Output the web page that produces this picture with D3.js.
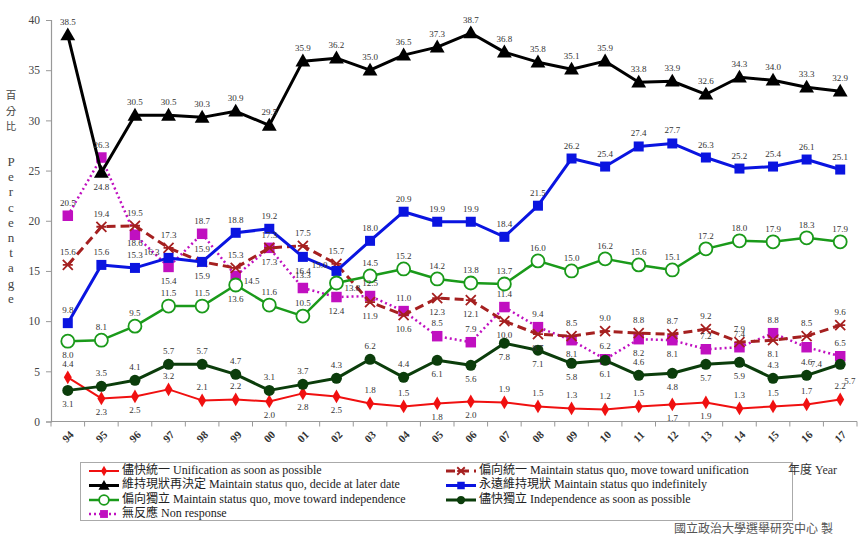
<!DOCTYPE html>
<html><head><meta charset="utf-8">
<script src="https://cdn.jsdelivr.net/npm/d3@7"></script>
<style>
body{margin:0;background:#fff;}
svg{display:block;}
text{font-family:"Liberation Serif","Times New Roman","Noto Sans CJK TC",serif;}
</style></head>
<body><svg id="chart" width="866" height="540"></svg>
<script>
// ---- data ----
const years = ["94","95","96","97","98","99","00","01","02","03","04","05","06","07","08","09","10","11","12","13","14","15","16","17"];
const yTicks = [0,5,10,15,20,25,30,35,40];
const unifyASAP      = [4.4,2.3,2.5,3.2,2.1,2.2,2.0,2.8,2.5,1.8,1.5,1.8,2.0,1.9,1.5,1.3,1.2,1.5,1.7,1.9,1.3,1.5,1.7,2.2];
const towardUnify    = [15.6,19.4,19.5,17.3,15.9,15.3,17.3,17.5,15.7,11.9,10.6,12.3,12.1,10.0,8.7,8.5,9.0,8.8,8.7,9.2,7.9,8.1,8.5,9.6];
const decideLater    = [38.5,24.8,30.5,30.5,30.3,30.9,29.5,35.9,36.2,35.0,36.5,37.3,38.7,36.8,35.8,35.1,35.9,33.8,33.9,32.6,34.3,34.0,33.3,32.9];
const indefinitely   = [9.8,15.6,15.3,16.3,15.9,18.8,19.2,16.4,15.0,18.0,20.9,19.9,19.9,18.4,21.5,26.2,25.4,27.4,27.7,26.3,25.2,25.4,26.1,25.1];
const towardIndep    = [8.0,8.1,9.5,11.5,11.5,13.6,11.6,10.5,13.8,14.5,15.2,14.2,13.8,13.7,16.0,15.0,16.2,15.6,15.1,17.2,18.0,17.9,18.3,17.9];
const indepASAP      = [3.1,3.5,4.1,5.7,5.7,4.7,3.1,3.7,4.3,6.2,4.4,6.1,5.6,7.8,7.1,5.8,6.1,4.6,4.8,5.7,5.9,4.3,4.6,5.7];
const nonResponse    = [20.5,26.3,18.6,15.4,18.7,14.5,17.3,13.3,12.4,12.5,11.0,8.5,7.9,11.4,9.4,8.1,6.2,8.2,8.1,7.2,7.4,8.8,7.4,6.5];

const seriesNames = [
  "儘快統一 Unification as soon as possible",
  "偏向統一 Maintain status quo, move toward unification",
  "維持現狀再決定 Maintain status quo, decide at later date",
  "永遠維持現狀 Maintain status quo indefinitely",
  "偏向獨立 Maintain status quo, move toward independence",
  "儘快獨立 Independence as soon as possible",
  "無反應 Non response"
];

// ---- styles (label placement: a=above, b=below, c=close below, l=left, r=right, q=right-below) ----
const styles = [
  {values:unifyASAP,   color:"#f01010", width:2,   dash:null,  marker:"diamond", place:"abbaaabbbaabbaaaaabbaaaa"},
  {values:towardUnify, color:"#a52020", width:3,   dash:"9,5", marker:"times",   place:"aaaaaabaabbbbbbaaaaaabaa"},
  {values:decideLater, color:"#000000", width:3,   dash:null,  marker:"triangle",place:"abaaaaaaaaaaaaaaaaaaaaaa"},
  {values:indefinitely,color:"#0a14e0", width:3,   dash:null,  marker:"square",  place:"aaalbaablaaaaaaaaaaaaaaa"},
  {values:towardIndep, color:"#1a9a1a", width:2.5, dash:null,  marker:"ocircle", place:"baaaabaaraaaaaaaaaaaaaaa"},
  {values:indepASAP,   color:"#0b3d0b", width:3,   dash:null,  marker:"fcircle", place:"baaaaaaaaaabbbbbbabbbaaq"},
  {values:nonResponse, color:"#c010c0", width:2.5, dash:"2,3", marker:"msquare", place:"aacbaraabaaaaaababbaaaqa"}
];
const drawOrder = [6,0,1,2,3,4,5];

const svg = d3.select("#chart");
const x = d3.scalePoint().domain(years).range([51, 857]).padding(0.5);
const y = d3.scaleLinear().domain([0, 40]).range([421.5, 20]);
const step = x.step();

// axes
const yAxis = d3.axisLeft(y).tickValues(yTicks).tickSize(5).tickPadding(6);
const gy = svg.append("g").attr("transform","translate(51,0)").call(yAxis);
gy.select(".domain").attr("stroke","#999").attr("stroke-width",1.2);
gy.selectAll(".tick line").attr("stroke","#999");
gy.selectAll(".tick text").attr("font-size",11.5).attr("fill","#444").style("font-family","'Liberation Serif',serif");

const gx = svg.append("g").attr("transform","translate(0,421.5)");
gx.append("line").attr("x1",51).attr("x2",857).attr("stroke","#999").attr("stroke-width",1.2);
gx.selectAll(".xt").data(d3.range(years.length+1)).join("line")
  .attr("x1",i=>51+i*step).attr("x2",i=>51+i*step).attr("y1",0).attr("y2",5).attr("stroke","#999");
gx.selectAll(".xl").data(years).join("text")
  .attr("transform",d=>`translate(${x(d)+1},${16}) rotate(-45)`)
  .attr("text-anchor","middle").attr("dominant-baseline","middle")
  .attr("font-size",11).attr("font-weight","bold").attr("fill","#333").text(d=>d);

// y title
const ytitle1 = ["百","分","比"];
svg.selectAll(".yt1").data(ytitle1).join("text")
  .attr("x",11).attr("y",(d,i)=>99+i*15.5).attr("text-anchor","middle")
  .attr("font-size",10.5).attr("fill","#444").style("font-family","'Noto Sans CJK TC',sans-serif").text(d=>d);
const ytitle2 = "Percentage".split("");
svg.selectAll(".yt2").data(ytitle2).join("text")
  .attr("x",11).attr("y",(d,i)=>163+i*15.2).attr("text-anchor","middle").attr("dominant-baseline","middle")
  .attr("font-size",13).attr("fill","#444").text(d=>d);

// marker drawing
function drawMarker(g, kind, color, cx, cy, scale=1){
  const s = scale;
  if(kind==="diamond"){
    g.append("path").attr("d",d3.symbol(d3.symbolDiamond, 55*s*s)()).attr("transform",`translate(${cx},${cy})`).attr("fill",color);
  } else if(kind==="triangle"){
    g.append("path").attr("d",d3.symbol(d3.symbolTriangle, 95*s*s)()).attr("transform",`translate(${cx},${cy+1})`).attr("fill",color);
  } else if(kind==="square"){
    g.append("path").attr("d",d3.symbol(d3.symbolSquare, 100*s*s)()).attr("transform",`translate(${cx},${cy})`).attr("fill",color);
  } else if(kind==="msquare"){
    g.append("path").attr("d",d3.symbol(d3.symbolSquare, 110*s*s)()).attr("transform",`translate(${cx},${cy})`).attr("fill",color);
  } else if(kind==="ocircle"){
    g.append("circle").attr("cx",cx).attr("cy",cy).attr("r",6.5*s).attr("fill","#fff").attr("stroke",color).attr("stroke-width",1.8);
  } else if(kind==="fcircle"){
    g.append("circle").attr("cx",cx).attr("cy",cy).attr("r",5.5*s).attr("fill",color);
  } else if(kind==="times"){
    const r=5*s;
    g.append("path").attr("d",`M${cx-r},${cy-r}L${cx+r},${cy+r}M${cx-r},${cy+r}L${cx+r},${cy-r}M${cx-r},${cy}L${cx+r},${cy}`)
      .attr("stroke",color).attr("stroke-width",1.8).attr("fill","none");
  }
}

const plot = svg.append("g");
const line = d3.line().x((d,i)=>x(years[i])).y(d=>y(d));
drawOrder.forEach(si=>{
  const st = styles[si];
  const g = plot.append("g");
  g.append("path").datum(st.values).attr("d",line).attr("fill","none")
    .attr("stroke",st.color).attr("stroke-width",st.width).attr("stroke-dasharray",st.dash)
    .attr("stroke-linejoin","round");
  st.values.forEach((v,i)=>drawMarker(g, st.marker, st.color, x(years[i]), y(v)));
});

// data labels
const lab = svg.append("g");
styles.forEach(st=>{
  st.values.forEach((v,i)=>{
    const p = st.place[i] || "a";
    let lx = x(years[i]), ly = y(v), anchor="middle";
    if(p==="a"){ ly -= 10; }
    else if(p==="b"){ ly += 17; }
    else if(p==="c"){ ly += 11; }
    else if(p==="l"){ lx -= 9; ly -= 3; anchor="end"; }
    else if(p==="r"){ lx += 8; ly += 8; anchor="start"; }
    else if(p==="q"){ lx += 4; ly += 20; anchor="start"; }
    lab.append("text").attr("x",lx).attr("y",ly).attr("text-anchor",anchor)
      .attr("font-size",9).attr("fill","#333").text(v.toFixed(1));
  });
});

// legend
const leg = svg.append("g");
leg.append("rect").attr("x",80.5).attr("y",462.5).attr("width",712).attr("height",58)
  .attr("fill","#fff").attr("stroke","#aaa").attr("stroke-width",1);
const legPos = [
  {col:0,row:0},{col:1,row:0},{col:0,row:1},{col:1,row:1},{col:0,row:2},{col:1,row:2},{col:0,row:3}
];
const colX = [89, 446];
const rowY = [471, 485.5, 500, 514];
styles.forEach((st,i)=>{
  const lp = legPos[i];
  const x0 = colX[lp.col], yy = rowY[lp.row];
  const g = leg.append("g");
  g.append("line").attr("x1",x0).attr("x2",x0+30).attr("y1",yy).attr("y2",yy)
    .attr("stroke",st.color).attr("stroke-width",st.width).attr("stroke-dasharray",st.dash);
  drawMarker(g, st.marker, st.color, x0+15, yy, 0.75);
  g.append("text").attr("x",x0+33).attr("y",yy).attr("dominant-baseline","middle")
    .attr("font-size",12).attr("fill","#222").text(seriesNames[i]);
});

svg.append("text").attr("x",788).attr("y",471).attr("dominant-baseline","middle")
  .attr("font-size",12).attr("fill","#333").text("年度 Year");
svg.append("text").attr("x",833).attr("y",530).attr("text-anchor","end").attr("dominant-baseline","middle")
  .attr("font-size",12).attr("fill","#555").text("國立政治大學選舉研究中心 製");
</script></body></html>
